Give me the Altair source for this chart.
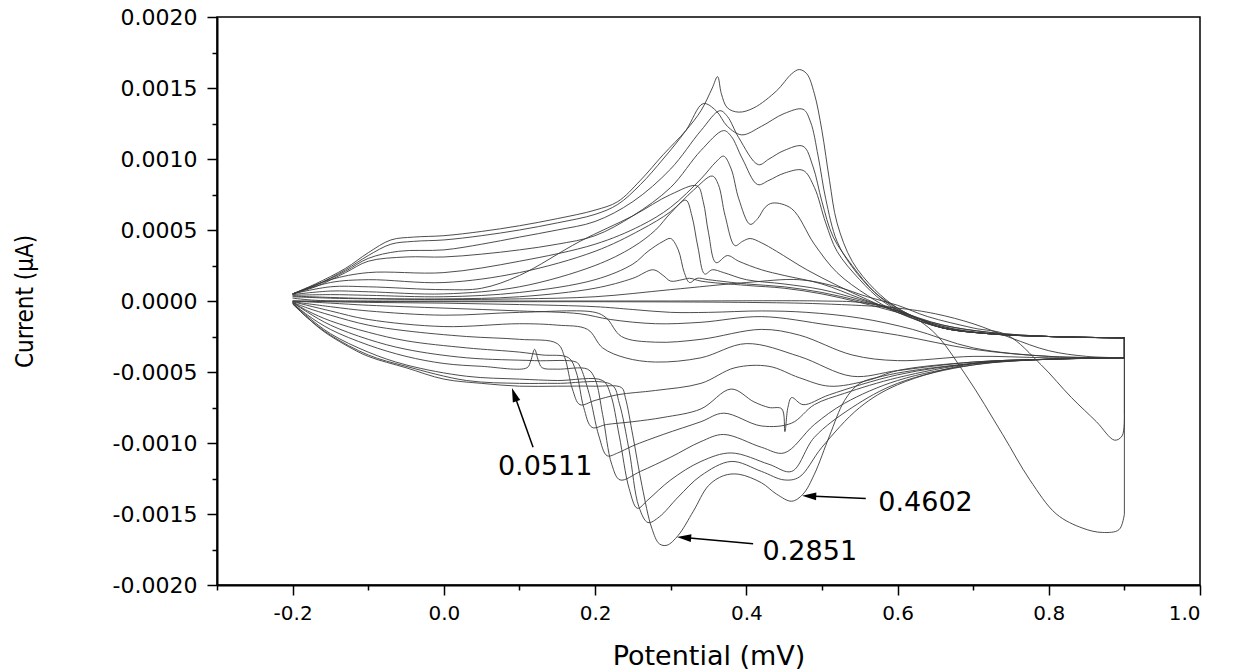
import altair as alt
import pandas as pd

# Potential (V) / current (in units of 1e-4), one loop per cycle
c0_fwd = [(-0.2,0.2),(-0.17,0.05),(-0.1,0.0),(0.1,0.0),(0.3,0.0),(0.5,0.0),(0.55,-0.1),(0.6,-0.6),(0.646,-2.1),(0.69,-5.2),(0.739,-9.4),(0.775,-12.6),(0.81,-15.0),(0.845,-16.0),(0.871,-16.3),(0.893,-16.1),(0.9,-15.0),(0.9,-4.0)]
c0_rev = [(0.9,-4.0),(0.85,-3.9),(0.8,-3.5),(0.75,-2.6),(0.7,-1.6),(0.65,-0.9),(0.6,-0.5),(0.5,-0.2),(0.4,-0.1),(0.2,-0.05),(0.0,-0.05),(-0.15,-0.02),(-0.2,0.0)]

c1_fwd = [(-0.2,0.3),(-0.15,0.2),(-0.1,0.15),(0.0,0.1),(0.1,0.15),(0.2,0.3),(0.3,0.8),(0.4,1.3),(0.47,1.5),(0.52,1.0),(0.56,0.3),(0.6,-0.3),(0.64,-1.1),(0.7,-1.9),(0.745,-2.4),(0.79,-4.5),(0.83,-6.8),(0.863,-8.5),(0.887,-9.8),(0.897,-9.5),(0.9,-8.0),(0.9,-4.0)]
c1_rev = [(0.9,-4.0),(0.8,-3.9),(0.7,-3.3),(0.62,-2.0),(0.55,-1.2),(0.48,-0.8),(0.42,-0.7),(0.35,-0.8),(0.3,-0.8),(0.25,-0.6),(0.2,-0.4),(0.1,-0.25),(0.0,-0.15),(-0.1,-0.1),(-0.2,0.0)]

c2_fwd = [(-0.2,0.35),(-0.15,0.25),(-0.1,0.18),(0.0,0.15),(0.1,0.3),(0.2,0.9),(0.25,1.6),(0.277,2.2),(0.29,1.8),(0.30,1.4),(0.315,1.5),(0.325,1.6),(0.34,1.4),(0.4,1.1),(0.45,0.9),(0.5,0.5),(0.55,-0.1),(0.6,-0.8),(0.66,-1.7),(0.72,-2.2),(0.8,-2.5),(0.9,-2.6)]
c2_rev = [(0.9,-4.0),(0.8,-3.9),(0.7,-3.4),(0.6,-2.4),(0.51,-1.7),(0.42,-1.1),(0.34,-1.5),(0.28,-1.6),(0.22,-1.3),(0.18,-0.9),(0.1,-0.7),(0.0,-0.5),(-0.1,-0.3),(-0.15,-0.15),(-0.2,0.0)]

c3_fwd = [(-0.2,0.4),(-0.15,0.45),(-0.1,0.4),(0.0,0.3),(0.1,0.6),(0.2,1.5),(0.25,2.6),(0.27,3.5),(0.29,4.2),(0.30,4.4),(0.31,3.6),(0.318,2.0),(0.325,1.3),(0.335,1.6),(0.35,1.5),(0.4,1.2),(0.45,1.0),(0.5,0.6),(0.55,0.0),(0.6,-0.7),(0.66,-1.7),(0.72,-2.2),(0.8,-2.5),(0.9,-2.6)]
c3_rev = [(0.9,-4.0),(0.8,-4.0),(0.7,-3.9),(0.6,-4.2),(0.54,-3.8),(0.47,-2.4),(0.42,-2.0),(0.34,-2.7),(0.28,-2.9),(0.235,-2.5),(0.215,-1.2),(0.2,-0.8),(0.1,-0.8),(0.0,-1.0),(-0.1,-0.7),(-0.15,-0.4),(-0.2,-0.05)]

c4_fwd = [(-0.2,0.45),(-0.15,0.7),(-0.1,0.65),(0.0,0.5),(0.1,1.0),(0.2,2.5),(0.25,3.8),(0.28,5.0),(0.30,6.2),(0.32,7.1),(0.328,6.0),(0.336,3.8),(0.345,1.9),(0.355,2.2),(0.37,2.0),(0.4,1.5),(0.45,1.2),(0.5,0.8),(0.55,0.1),(0.6,-0.7),(0.66,-1.8),(0.72,-2.3),(0.8,-2.5),(0.9,-2.6)]
c4_rev = [(0.9,-4.0),(0.8,-4.1),(0.7,-4.3),(0.6,-4.9),(0.54,-5.3),(0.47,-3.9),(0.40,-3.0),(0.34,-4.0),(0.28,-4.3),(0.24,-4.0),(0.21,-3.3),(0.19,-2.0),(0.15,-1.7),(0.1,-1.6),(0.0,-1.8),(-0.1,-1.3),(-0.15,-0.7),(-0.2,-0.05)]

c5_fwd = [(-0.2,0.5),(-0.15,1.0),(-0.1,1.0),(0.0,0.8),(0.05,0.9),(0.1,1.8),(0.18,4.2),(0.25,6.0),(0.3,7.5),(0.335,8.1),(0.343,7.0),(0.35,4.8),(0.36,2.7),(0.375,3.2),(0.39,2.8),(0.42,2.2),(0.45,1.8),(0.5,1.2),(0.55,0.2),(0.6,-0.7),(0.66,-1.8),(0.72,-2.3),(0.8,-2.5),(0.9,-2.6)]
c5_rev = [(0.9,-4.0),(0.8,-4.1),(0.7,-4.3),(0.6,-4.9),(0.56,-5.6),(0.51,-6.0),(0.47,-5.4),(0.43,-4.6),(0.385,-4.7),(0.34,-5.8),(0.28,-6.3),(0.23,-6.6),(0.2,-7.0),(0.18,-7.3),(0.17,-6.2),(0.16,-4.0),(0.15,-3.0),(0.1,-2.7),(0.03,-2.5),(-0.05,-2.1),(-0.1,-1.7),(-0.15,-1.0),(-0.18,-0.5),(-0.2,-0.1)]

c6_fwd = [(-0.2,0.5),(-0.15,1.3),(-0.1,1.5),(0.0,1.3),(0.1,2.0),(0.2,3.5),(0.26,5.0),(0.3,6.3),(0.33,7.8),(0.355,8.8),(0.363,8.2),(0.372,6.0),(0.385,3.9),(0.395,4.2),(0.405,4.4),(0.42,4.1),(0.44,3.5),(0.48,2.2),(0.52,1.1),(0.56,0.1),(0.6,-0.8),(0.66,-1.9),(0.72,-2.3),(0.8,-2.5),(0.9,-2.6)]
c6_rev = [(0.9,-4.0),(0.8,-4.1),(0.7,-4.4),(0.6,-5.2),(0.51,-6.6),(0.475,-7.3),(0.46,-6.8),(0.455,-7.5),(0.451,-9.2),(0.447,-7.6),(0.43,-7.5),(0.41,-7.1),(0.38,-6.2),(0.34,-7.6),(0.29,-8.2),(0.25,-8.5),(0.215,-8.7),(0.196,-8.9),(0.185,-7.5),(0.175,-5.0),(0.165,-4.0),(0.13,-3.8),(0.1,-3.6),(0.03,-3.3),(-0.05,-2.8),(-0.1,-2.2),(-0.15,-1.4),(-0.18,-0.7),(-0.2,-0.1)]

c7_fwd = [(-0.2,0.5),(-0.15,1.5),(-0.1,2.0),(0.0,2.0),(0.1,2.8),(0.2,4.0),(0.26,5.3),(0.3,6.6),(0.34,8.6),(0.36,9.8),(0.37,10.2),(0.38,9.3),(0.39,7.2),(0.405,5.4),(0.415,5.8),(0.425,6.6),(0.435,6.9),(0.46,6.5),(0.49,4.0),(0.52,2.0),(0.56,0.4),(0.6,-0.8),(0.66,-1.9),(0.72,-2.3),(0.8,-2.5),(0.9,-2.6)]
c7_rev = [(0.9,-4.0),(0.8,-4.1),(0.7,-4.4),(0.6,-5.4),(0.53,-6.5),(0.49,-7.3),(0.46,-8.6),(0.42,-8.8),(0.37,-7.9),(0.34,-8.5),(0.29,-9.4),(0.25,-10.2),(0.23,-10.7),(0.216,-10.9),(0.205,-9.5),(0.192,-6.5),(0.18,-4.6),(0.175,-4.3),(0.12,-4.2),(0.03,-4.0),(-0.05,-3.4),(-0.1,-2.7),(-0.15,-1.7),(-0.18,-0.8),(-0.2,-0.1)]

c8_fwd = [(-0.2,0.5),(-0.17,1.0),(-0.13,2.0),(-0.1,2.8),(-0.05,3.1),(0.0,3.1),(0.05,3.3),(0.1,3.6),(0.15,4.0),(0.2,4.6),(0.25,6.0),(0.3,8.0),(0.34,10.6),(0.37,12.0),(0.38,11.6),(0.395,10.0),(0.415,8.2),(0.43,8.5),(0.45,9.0),(0.475,9.2),(0.49,8.0),(0.505,5.5),(0.52,3.5),(0.55,1.5),(0.58,0.0),(0.62,-1.2),(0.66,-1.9),(0.72,-2.3),(0.8,-2.5),(0.9,-2.6)]
c8_rev = [(0.9,-4.0),(0.8,-4.1),(0.7,-4.5),(0.6,-5.6),(0.53,-7.2),(0.49,-8.7),(0.45,-10.7),(0.42,-10.3),(0.37,-9.4),(0.34,-9.9),(0.3,-11.0),(0.26,-12.0),(0.233,-12.6),(0.222,-11.5),(0.21,-8.0),(0.2,-5.5),(0.19,-4.8),(0.15,-4.8),(0.13,-4.7),(0.125,-4.2),(0.12,-3.4),(0.115,-4.2),(0.11,-4.7),(0.05,-4.6),(0.0,-4.4),(-0.05,-3.9),(-0.1,-3.1),(-0.15,-2.0),(-0.18,-1.0),(-0.2,-0.15)]

c9_fwd = [(-0.2,0.5),(-0.17,1.1),(-0.13,2.1),(-0.1,3.0),(-0.06,3.5),(0.0,3.6),(0.05,4.0),(0.1,4.5),(0.15,5.0),(0.2,5.6),(0.25,7.0),(0.3,9.3),(0.34,12.0),(0.365,13.4),(0.375,13.0),(0.39,11.5),(0.416,9.6),(0.43,10.0),(0.45,10.6),(0.475,10.9),(0.488,9.5),(0.5,7.0),(0.515,4.5),(0.54,2.5),(0.57,0.6),(0.6,-0.6),(0.63,-1.3),(0.66,-1.9),(0.72,-2.3),(0.8,-2.5),(0.9,-2.6)]
c9_rev = [(0.9,-4.0),(0.8,-4.1),(0.7,-4.5),(0.6,-5.8),(0.54,-7.5),(0.49,-9.6),(0.46,-12.0),(0.43,-11.5),(0.38,-10.7),(0.34,-11.3),(0.3,-12.6),(0.27,-14.0),(0.256,-14.6),(0.245,-13.2),(0.232,-9.5),(0.22,-6.5),(0.21,-5.6),(0.15,-5.6),(0.1,-5.5),(0.03,-5.3),(-0.05,-4.5),(-0.1,-3.6),(-0.15,-2.3),(-0.18,-1.1),(-0.2,-0.15)]

c10_fwd = [(-0.2,0.5),(-0.17,1.1),(-0.13,2.2),(-0.1,3.2),(-0.07,4.0),(-0.04,4.2),(0.0,4.3),(0.05,4.6),(0.1,5.0),(0.15,5.5),(0.2,6.1),(0.23,6.8),(0.26,8.2),(0.29,10.0),(0.32,12.0),(0.343,13.9),(0.36,13.4),(0.375,12.3),(0.394,11.7),(0.42,12.3),(0.45,13.2),(0.475,13.5),(0.485,12.6),(0.495,10.2),(0.505,7.2),(0.52,4.2),(0.54,2.4),(0.57,0.6),(0.6,-0.5),(0.63,-1.3),(0.66,-1.9),(0.72,-2.3),(0.8,-2.5),(0.9,-2.6)]
c10_rev = [(0.9,-4.0),(0.8,-4.1),(0.7,-4.4),(0.6,-5.9),(0.55,-7.5),(0.5,-10.3),(0.47,-12.4),(0.45,-12.6),(0.42,-12.0),(0.38,-11.3),(0.34,-12.3),(0.31,-13.8),(0.285,-15.2),(0.27,-15.6),(0.258,-14.5),(0.245,-10.5),(0.232,-7.2),(0.222,-5.9),(0.15,-5.8),(0.1,-5.8),(0.03,-5.6),(-0.05,-4.6),(-0.1,-3.8),(-0.15,-2.4),(-0.18,-1.2),(-0.2,-0.2)]

c11_fwd = [(-0.2,0.5),(-0.17,1.2),(-0.13,2.3),(-0.1,3.4),(-0.07,4.3),(-0.04,4.5),(0.0,4.6),(0.05,4.9),(0.1,5.3),(0.15,5.8),(0.2,6.4),(0.23,7.0),(0.26,8.5),(0.29,10.3),(0.32,12.0),(0.34,13.4),(0.355,15.0),(0.362,15.8),(0.367,14.6),(0.375,13.6),(0.39,13.3),(0.41,13.6),(0.44,14.8),(0.46,16.0),(0.47,16.3),(0.48,16.0),(0.49,14.6),(0.5,12.0),(0.51,8.5),(0.52,5.5),(0.54,2.8),(0.57,0.8),(0.6,-0.5),(0.63,-1.3),(0.66,-1.9),(0.72,-2.3),(0.8,-2.5),(0.9,-2.6)]
c11_rev = [(0.9,-4.0),(0.8,-4.1),(0.7,-4.4),(0.62,-4.9),(0.58,-5.3),(0.55,-5.8),(0.53,-7.0),(0.51,-9.5),(0.49,-12.2),(0.475,-13.6),(0.46,-14.1),(0.44,-13.6),(0.42,-12.8),(0.39,-12.2),(0.37,-12.3),(0.35,-13.0),(0.33,-14.8),(0.31,-16.5),(0.295,-17.2),(0.285,-17.1),(0.275,-16.0),(0.262,-13.0),(0.25,-9.5),(0.24,-6.8),(0.235,-6.1),(0.2,-6.0),(0.15,-6.0),(0.1,-6.0),(0.05,-5.8),(0.0,-5.5),(-0.05,-4.7),(-0.1,-3.9),(-0.13,-3.1),(-0.16,-2.1),(-0.18,-1.2),(-0.2,-0.2)]

CURRENT_UNIT = 1e-4
SWITCH_POTENTIAL = 0.9

# Annotations
ann_labels = ["0.0511", "0.2851", "0.4602"]
ann_text_x = [0.134, 0.484, 0.637]
ann_text_y = [-0.00117, -0.00177, -0.00142]
arrow_tail_x = [0.118, 0.409, 0.558]
arrow_tail_y = [-0.00103, -0.00171, -0.00139]
arrow_head_x = [0.0931, 0.3177, 0.4831]
arrow_head_y = [-0.000659, -0.001666, -0.001374]
arrow_angle = [341, 275, 272]

x_ticks = [round(-0.3 + 0.1 * i, 1) for i in range(14)]
y_ticks = [round(-0.002 + 0.00025 * i, 5) for i in range(17)]

cycles = [(c0_fwd, c0_rev), (c1_fwd, c1_rev), (c2_fwd, c2_rev), (c3_fwd, c3_rev),
          (c4_fwd, c4_rev), (c5_fwd, c5_rev), (c6_fwd, c6_rev), (c7_fwd, c7_rev),
          (c8_fwd, c8_rev), (c9_fwd, c9_rev), (c10_fwd, c10_rev), (c11_fwd, c11_rev)]

curve_rows, turn_rows = [], []


def add(rows, piece, pts):
    prev = None
    j = 0
    for pt in pts:
        if pt == prev:
            continue
        prev = pt
        rows.append({"piece": piece, "ord": j, "x": pt[0], "y": pt[1] * CURRENT_UNIT})
        j += 1


for ci, (fwd, rev) in enumerate(cycles):
    k = next(i for i, p in enumerate(fwd) if p[0] == SWITCH_POTENTIAL)
    add(curve_rows, f"{ci}f", fwd[:k + 1])           # forward sweep (smooth)
    add(turn_rows, f"{ci}t", fwd[k:] + rev[:1])      # vertical turn at switching potential
    add(curve_rows, f"{ci}r", rev)                   # reverse sweep (smooth)

curve_df = pd.DataFrame(curve_rows)
turn_df = pd.DataFrame(turn_rows)

ann_df = pd.DataFrame({"label": ann_labels, "x": ann_text_x, "y": ann_text_y})
arr_df = pd.DataFrame({"x": arrow_tail_x, "y": arrow_tail_y,
                       "x2": arrow_head_x, "y2": arrow_head_y})
head_df = pd.DataFrame({"x": arrow_head_x, "y": arrow_head_y, "angle": arrow_angle})

xs = alt.Scale(domain=[-0.3, 1.0], nice=False, zero=False)
ys = alt.Scale(domain=[-0.002, 0.002], nice=False, zero=False)

TICK_FONT = "DejaVu Sans"

xaxis = alt.Axis(
    values=x_ticks,
    labelExpr="abs(round(datum.value*10)) % 2 == 0 ? replace(format(datum.value, '.1f'), '\u2212', '-') : ''",
    tickSize={"condition": {"test": "abs(round(datum.value*10)) % 2 == 0", "value": 10}, "value": 5},
    tickWidth=1.5, tickColor="black", domainColor="black", domainWidth=2,
    labelFont=TICK_FONT, labelFontSize=20, labelColor="black", labelPadding=8,
    title="Potential (mV)", titleFont="DejaVu Sans", titleFontSize=27,
    titleFontWeight="normal", titleColor="black", titleY=71, titleBaseline="middle",
    grid=False,
)
yaxis = alt.Axis(
    values=y_ticks,
    labelExpr="abs(round(datum.value*4000)) % 2 == 0 ? replace(format(datum.value, '.4f'), '\u2212', '-') : ''",
    tickSize={"condition": {"test": "abs(round(datum.value*4000)) % 2 == 0", "value": 10}, "value": 5},
    tickWidth=1.5, tickColor="black", domainColor="black", domainWidth=2,
    labelFont=TICK_FONT, labelFontSize=22, labelColor="black", labelPadding=10,
    title="Current (\u03bcA)", titleFont="Liberation Sans Narrow, DejaVu Sans Condensed, Liberation Sans",
    titleFontSize=24, titleFontWeight="normal", titleColor="black", titleX=-180,
    grid=False,
)

X = alt.X("x:Q", scale=xs, axis=xaxis)
Y = alt.Y("y:Q", scale=ys, axis=yaxis)

curves = alt.Chart(curve_df).mark_line(
    color="#3a3a3a", strokeWidth=0.9, interpolate="catmull-rom"
).encode(x=X, y=Y, detail="piece:N", order="ord:Q")

turns = alt.Chart(turn_df).mark_line(color="#3a3a3a", strokeWidth=0.9).encode(
    x=X, y=Y, detail="piece:N", order="ord:Q")

arrows = alt.Chart(arr_df).mark_rule(color="black", strokeWidth=1.5).encode(
    x=X, y=Y, x2="x2:Q", y2="y2:Q")

heads = alt.Chart(head_df).mark_point(
    shape="M0,-1L0.55,1L-0.55,1Z", filled=True, color="black", opacity=1, size=200
).encode(x=X, y=Y, angle=alt.Angle("angle:Q", scale=None))

texts = alt.Chart(ann_df).mark_text(
    font="DejaVu Sans", fontSize=27, color="black", align="center", baseline="middle"
).encode(x=X, y=Y, text="label:N")

chart = alt.layer(curves, turns, arrows, heads, texts).properties(
    width=983, height=568,
    autosize=alt.AutoSizeParams(type="none"),
    padding={"left": 217, "top": 17, "right": 35, "bottom": 87},
).configure_view(stroke="black", strokeWidth=1.5)

chart.save("out.html", embed_options={"renderer": "svg", "actions": False})
